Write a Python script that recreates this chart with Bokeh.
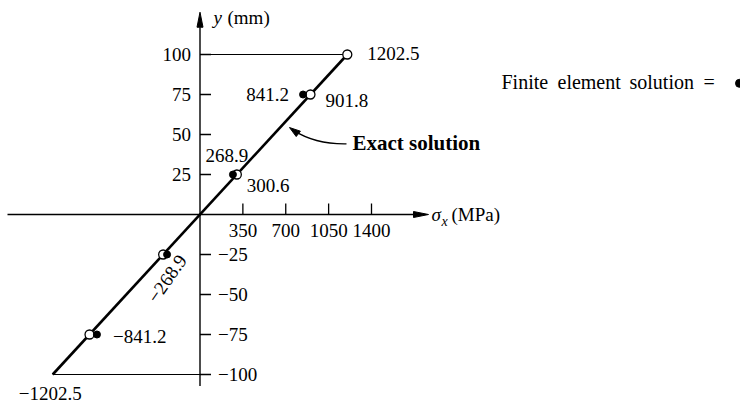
import numpy as np
from bokeh.plotting import figure
from bokeh.models import Range1d
from bokeh.core.properties import value
from bokeh.embed import file_html
from bokeh.resources import INLINE

# ---------------- data ----------------
x_ticks = [350, 700, 1050, 1400]
x_tick_labels = ["350", "700", "1050", "1400"]
y_ticks_pos = [25, 50, 75, 100]
y_tick_labels_pos = ["25", "50", "75", "100"]
y_ticks_neg = [-25, -50, -75, -100]
y_tick_labels_neg = ["\u221225", "\u221250", "\u221275", "\u2212100"]

exact_line_x = [-1202.5, 1202.5]
exact_line_y = [-100, 100]
exact_pts_x = [1202.5, 901.8, 300.6, -300.6, -901.8]
exact_pts_y = [100, 75, 25, -25, -75]
fe_x = [841.2, 268.9, -268.9, -841.2]
fe_y = [75, 25, -25, -75]

legend_words = ["Finite", "element", "solution", "="]

# ---------------- geometry ----------------
W, H = 740, 403
SX, SY = 0.1225, 1.60           # px per data unit
OX, OY = 199.5, 214.0           # canvas position of the origin
K = SY / 1.665                  # vertical squeeze of the layout


def ry(yp):
    """layout y (pixels in the 419-tall layout) -> canvas y"""
    return OY + (yp - 221.5) * K


def pg(xp, yp):
    """layout pixel -> data coords"""
    return ((xp - OX) / SX, (OY - ry(yp)) / SY)


def dxp(px):
    return px / SX


def dyp(px):
    return -px * K / SY


FONT = value("Liberation Serif")
FS = "19px"

p = figure(width=W, height=H, output_backend="svg", toolbar_location=None,
           x_range=Range1d(-OX / SX, (W - OX) / SX),
           y_range=Range1d(-(H - OY) / SY, OY / SY),
           min_border=0, outline_line_color=None)
p.axis.visible = False
p.grid.visible = False
p.background_fill_color = "white"
p.border_fill_color = "white"

# ---------------- axes (drawn) ----------------
x_left = pg(7, 0)[0]
x_tip = pg(428, 0)[0]
x_base = x_tip - dxp(15)
p.segment(x0=[x_left], y0=[0], x1=[x_base], y1=[0], line_color="black", line_width=1.4)
p.patch([x_tip, x_base, x_base], [0, 3 / SY, -3 / SY], fill_color="black", line_color="black")

y_bot = pg(0, 400)[1]
y_tip = pg(0, 11)[1]
y_base = y_tip - (15 / SY)
p.segment(x0=[0], y0=[y_bot], x1=[0], y1=[y_base], line_color="black", line_width=1.4)
p.patch([0, dxp(-3), dxp(3)], [y_tip, y_base, y_base], fill_color="black", line_color="black")

# ticks
p.segment(x0=x_ticks, y0=[0] * len(x_ticks), x1=x_ticks, y1=[11 / SY] * len(x_ticks),
          line_color="black", line_width=1.3)
yt = y_ticks_pos + y_ticks_neg
p.segment(x0=[0] * len(yt), y0=yt, x1=[dxp(11)] * len(yt), y1=yt,
          line_color="black", line_width=1.3)

# tick labels
p.text(x=x_ticks, y=[dyp(17)] * len(x_ticks), text=x_tick_labels, text_font=FONT,
       text_font_size=FS, text_align="center", text_baseline="middle")
p.text(x=[dxp(-9)] * 4, y=y_ticks_pos, text=y_tick_labels_pos, text_font=FONT,
       text_font_size=FS, text_align="right", text_baseline="middle")
p.text(x=[dxp(18)] * 4, y=y_ticks_neg, text=y_tick_labels_neg, text_font=FONT,
       text_font_size=FS, text_align="left", text_baseline="middle")

# axis titles
yx, yy = pg(213, 17)
p.text(x=[yx], y=[yy], text=["y"], text_font=FONT, text_font_size=FS,
       text_font_style="italic", text_align="left", text_baseline="middle")
mx, my = pg(227, 17)
p.text(x=[mx], y=[my], text=["(mm)"], text_font=FONT, text_font_size=FS,
       text_align="left", text_baseline="middle")

sx_, sy_ = pg(431, 221)
p.text(x=[sx_], y=[sy_], text=["\u03c3"], text_font=FONT, text_font_size=FS,
       text_font_style="italic", text_align="left", text_baseline="middle")
bx, by = pg(441, 229)
p.text(x=[bx], y=[by], text=["x"], text_font=FONT, text_font_size="14px",
       text_font_style="italic", text_align="left", text_baseline="middle")
ux, uy = pg(451, 221)
p.text(x=[ux], y=[uy], text=["(MPa)"], text_font=FONT, text_font_size=FS,
       text_align="left", text_baseline="middle")

# ---------------- series ----------------
# reference horizontals at +/-100
p.segment(x0=[0, exact_line_x[0]], y0=[exact_line_y[1], exact_line_y[0]],
          x1=[exact_line_x[1], 0], y1=[exact_line_y[1], exact_line_y[0]],
          line_color="black", line_width=1.2)
# exact solution
p.line(exact_line_x, exact_line_y, line_color="black", line_width=2.6)
p.scatter(exact_pts_x, exact_pts_y, marker="circle", size=9, fill_color="white",
          line_color="black", line_width=1.3)
p.scatter(fe_x, fe_y, marker="circle", size=7, fill_color="black", line_color="black")

# value labels for exact solution
lab_exact = [
    (exact_pts_x[0], exact_pts_y[0], "1202.5", 20, -1, "left"),
    (exact_pts_x[1], exact_pts_y[1], "901.8", 15, 6, "left"),
    (exact_pts_x[2], exact_pts_y[2], "300.6", 10, 11, "left"),
    (exact_line_x[0], exact_line_y[0], "\u22121202.5", -34, 20, "left"),
]
for x, y, t, ox, oy, al in lab_exact:
    p.text(x=[x + dxp(ox)], y=[y + dyp(oy)], text=[t], text_font=FONT, text_font_size=FS,
           text_align=al, text_baseline="middle")

# value labels for finite element solution
lab_fe = [
    (fe_x[0], fe_y[0], "841.2", -14, 0, "right", 0),
    (fe_x[1], fe_y[1], "268.9", -6, -20, "center", 0),
    (fe_x[2], fe_y[2], "\u2212268.9", 0, 25, "center", np.deg2rad(55)),
    (fe_x[3], fe_y[3], "\u2212841.2", 16, 2, "left", 0),
]
for x, y, t, ox, oy, al, ang in lab_fe:
    p.text(x=[x + dxp(ox)], y=[y + dyp(oy)], text=[t], text_font=FONT, text_font_size=FS,
           text_align=al, text_baseline="middle", angle=ang)

# "Exact solution" callout
ex, ey = pg(352, 147)
p.text(x=[ex], y=[ey], text=["Exact solution"], text_font=FONT, text_font_size="21px",
       text_font_style="bold", text_align="left", text_baseline="middle")
c_start = pg(346, 148)
c_c1 = pg(318, 148.5)
c_c2 = pg(302, 140)
c_end = pg(293, 134)
p.bezier(x0=[c_start[0]], y0=[c_start[1]], x1=[c_end[0]], y1=[c_end[1]],
         cx0=[c_c1[0]], cy0=[c_c1[1]], cx1=[c_c2[0]], cy1=[c_c2[1]],
         line_color="black", line_width=1.4)
tip = np.array([289.0, 131.0])
d = tip - np.array([299.0, 138.5])
d = d / np.linalg.norm(d)
n = np.array([-d[1], d[0]])
base = tip - 11 * d
pts = [tip, base + 3.5 * n, base - 3.5 * n]
hx, hy = zip(*[pg(q[0], q[1]) for q in pts])
p.patch(list(hx), list(hy), fill_color="black", line_color="black")

# legend line (words placed as in the reference, shifted to stay on the canvas)
shift = -14
word_x = [515, 571, 643, 717]
for wx, wt in zip(word_x, legend_words):
    lx, ly = pg(wx + shift, 84)
    p.text(x=[lx], y=[ly], text=[wt], text_font=FONT, text_font_size="20px",
           text_align="left", text_baseline="middle")
dx_, dy_ = pg(753 + shift, 85)
p.scatter([dx_], [dy_], marker="circle", size=8, fill_color="black", line_color="black")

open("out.html", "w").write(file_html(p, INLINE))
